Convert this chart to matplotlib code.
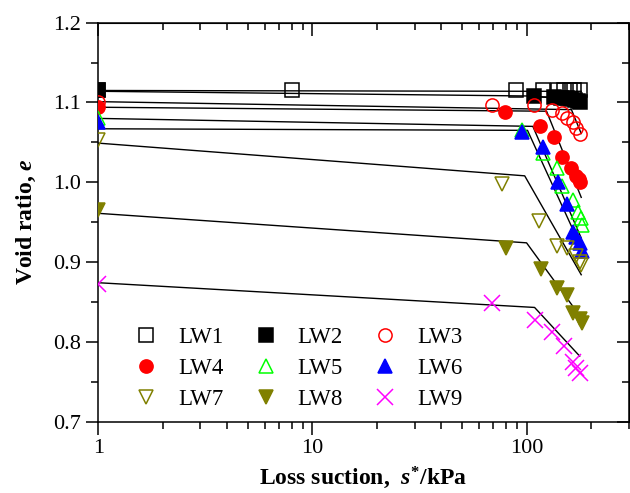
import matplotlib
matplotlib.use("Agg")
import matplotlib.pyplot as plt
import matplotlib.ticker as ticker

plt.rcParams["font.family"] = ["Liberation Serif", "DejaVu Serif"]
plt.rcParams["mathtext.fontset"] = "custom"
plt.rcParams["mathtext.rm"] = "Liberation Serif:bold"
plt.rcParams["mathtext.it"] = "Liberation Serif:italic:bold"
plt.rcParams["mathtext.bf"] = "Liberation Serif:bold"

# measured points: loss suction (kPa) and void ratio
lw1_s = [1, 8, 89, 119, 140, 150, 159, 167, 177]
lw1_e = [1.116, 1.115, 1.115, 1.115, 1.115, 1.115, 1.115, 1.115, 1.115]
lw2_s = [1, 108, 135, 145, 155, 162, 168, 173, 177]
lw2_e = [1.115, 1.108, 1.107, 1.106, 1.105, 1.104, 1.103, 1.102, 1.101]
lw3_s = [1, 69, 108, 131, 147, 155, 164, 171, 177]
lw3_e = [1.100, 1.097, 1.097, 1.091, 1.087, 1.080, 1.075, 1.068, 1.061]
lw4_s = [1, 79, 116, 134, 147, 162, 171, 175, 177]
lw4_e = [1.094, 1.088, 1.071, 1.057, 1.031, 1.018, 1.008, 1.004, 1.000]
lw5_s = [1, 95, 119, 138, 146, 164, 173, 180, 182]
lw5_e = [1.080, 1.066, 1.036, 1.018, 0.995, 0.978, 0.963, 0.955, 0.946]
lw6_s = [1, 95, 119, 140, 155, 164, 171, 177, 182]
lw6_e = [1.075, 1.063, 1.044, 1.000, 0.973, 0.937, 0.931, 0.924, 0.914]
lw7_s = [1, 77, 114, 138, 155, 171, 177, 180]
lw7_e = [1.053, 0.998, 0.951, 0.920, 0.917, 0.907, 0.900, 0.896]
lw8_s = [1, 80, 117, 138, 155, 164, 177, 182]
lw8_e = [0.965, 0.917, 0.891, 0.867, 0.858, 0.836, 0.828, 0.824]
lw9_s = [1, 69, 109, 132, 150, 164, 171, 177]
lw9_e = [0.873, 0.849, 0.827, 0.812, 0.795, 0.775, 0.767, 0.761]

# bilinear fitted lines (start, break, end)
fit_s = {
    "LW1": [1, 100, 180],
    "LW2": [1, 110, 180],
    "LW3": [1, 162, 180],
    "LW4": [1, 124, 180],
    "LW5": [1, 107, 180],
    "LW6": [1, 101, 180],
    "LW7": [1, 98, 180],
    "LW8": [1, 100, 180],
    "LW9": [1, 109, 177],
}
fit_e = {
    "LW1": [1.115, 1.114, 1.114],
    "LW2": [1.114, 1.108, 1.101],
    "LW3": [1.101, 1.091, 1.061],
    "LW4": [1.094, 1.089, 0.981],
    "LW5": [1.080, 1.070, 0.930],
    "LW6": [1.067, 1.065, 0.918],
    "LW7": [1.049, 1.008, 0.884],
    "LW8": [0.961, 0.924, 0.830],
    "LW9": [0.874, 0.843, 0.782],
}

series = [
    ("LW1", lw1_s, lw1_e, "s", "black", "none"),
    ("LW2", lw2_s, lw2_e, "s", "black", "black"),
    ("LW3", lw3_s, lw3_e, "o", "red", "none"),
    ("LW4", lw4_s, lw4_e, "o", "red", "red"),
    ("LW5", lw5_s, lw5_e, "^", "#00ff00", "none"),
    ("LW6", lw6_s, lw6_e, "^", "blue", "blue"),
    ("LW7", lw7_s, lw7_e, "v", "#808000", "none"),
    ("LW8", lw8_s, lw8_e, "v", "#808000", "#808000"),
    ("LW9", lw9_s, lw9_e, "x", "#ff00ff", "#ff00ff"),
]

fig = plt.figure(figsize=(6.3, 4.93), dpi=100)
ax = fig.add_axes([0.156, 0.145, 0.842, 0.809])

for name, _, _, _, _, _ in series:
    ax.plot(fit_s[name], fit_e[name], color="black", lw=1.0, zorder=2)

handles = {}
for name, s, e, mk, col, fc in series:
    size = 11.5 if mk == "x" else 9.5
    h, = ax.plot(s, e, linestyle="none", marker=mk, markersize=size,
                 markeredgecolor=col, markerfacecolor=fc,
                 markeredgewidth=1.1, label=name, zorder=3)
    handles[name] = h

ax.set_xscale("log")
ax.set_xlim(1, 300)
ax.set_ylim(0.7, 1.2)
ax.yaxis.set_major_locator(ticker.MultipleLocator(0.1))
ax.yaxis.set_minor_locator(ticker.MultipleLocator(0.05))
ax.yaxis.set_major_formatter(ticker.FormatStrFormatter("%.1f"))
ax.xaxis.set_major_formatter(ticker.FuncFormatter(lambda v, p: f"{v:g}"))
ax.xaxis.set_minor_formatter(ticker.NullFormatter())

for sp in ax.spines.values():
    sp.set_linewidth(1.1)
ax.tick_params(which="both", direction="out", labelsize=16, width=1.1)
ax.tick_params(which="major", length=9)
ax.tick_params(which="minor", length=5)

# top and right axes with inward ticks, no labels
top = ax.secondary_xaxis("top")
top.xaxis.set_minor_locator(ticker.LogLocator(subs=range(2, 10)))
top.tick_params(which="both", direction="in", labeltop=False, width=1.1)
top.tick_params(which="major", length=9)
top.tick_params(which="minor", length=5)
right = ax.secondary_yaxis("right")
right.yaxis.set_major_locator(ticker.MultipleLocator(0.1))
right.yaxis.set_minor_locator(ticker.MultipleLocator(0.05))
right.tick_params(which="both", direction="in", labelright=False, width=1.1)
right.tick_params(which="major", length=9)
right.tick_params(which="minor", length=5)

ax.set_xlabel(r"Loss suction,  $s^{*}$/kPa", fontsize=17, fontweight="bold",
              labelpad=5)
ax.set_ylabel(r"Void ratio, $e$", fontsize=17, fontweight="bold", labelpad=11)

order = ["LW1", "LW4", "LW7", "LW2", "LW5", "LW8", "LW3", "LW6", "LW9"]
ax.legend([handles[n] for n in order], order, ncol=3, frameon=False,
          fontsize=16.5, loc="lower left", bbox_to_anchor=(0.026, -0.022),
          handletextpad=0.8, columnspacing=1.22, labelspacing=0.42,
          handlelength=1.2)

fig.savefig("out.png", dpi=100)
